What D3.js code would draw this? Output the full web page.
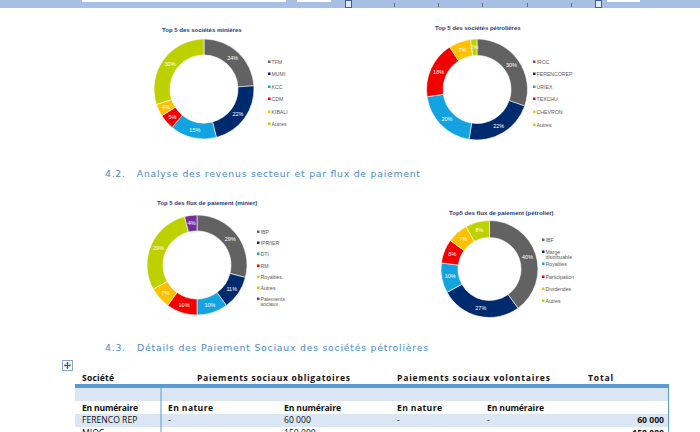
<!DOCTYPE html>
<html><head><meta charset="utf-8">
<script src="https://cdn.jsdelivr.net/npm/d3@7"></script>
<style>body{margin:0;background:#fff}svg{display:block}</style>
</head><body><svg id="c" width="700" height="432"></svg>
<script>
// ---- data ----
const minesCats = ["TFM","MUMI","KCC","CDM","KIBALI","Autres"];
const minesVals = [24,22,15,5,4,30];
const petroCats = ["IROC","FERENCOREP","URIEX","TEXCHU","CHEVRON","Autres"];
const petroVals = [30,22,20,18,7,2];
const fluxMinCats = ["IBP","IPR/IER","DTI","RM","Royalties.","Autres","Paiements sociaux"];
const fluxMinVals = [29,11,10,10,7,29,4];
const fluxPetCats = ["IBF","Marge distribuable","Royalties","Participation","Dividendes","Autres"];
const fluxPetVals = [40,27,10,8,7,8];
const colors6 = ["#626262","#002a6e","#12a3e0","#f20000","#ffc000","#bdd100"];
const colors7 = ["#626262","#002a6e","#12a3e0","#f20000","#ffc000","#bdd100","#7030a0"];

const tableHead = ["Société","Paiements sociaux obligatoires","Paiements sociaux volontaires","Total"];
const tableSub = ["En numéraire","En nature","En numéraire","En nature","En numéraire",""];
const tableRows = [
  ["FERENCO REP","-","60 000","-","-","60 000"],
  ["MIOC","","150 000","","","150 000"]
];
const headings = ["4.2.   Analyse des revenus secteur et par flux de paiement","4.3.   Détails des Paiement Sociaux des sociétés pétrolières"];

const svg = d3.select("#c");
svg.append("rect").attr("width",700).attr("height",432).attr("fill","#fff");

// ---- ruler ----
const ruler = svg.append("g");
ruler.append("rect").attr("x",0).attr("y",0).attr("width",700).attr("height",8).attr("fill","#a6bfe3");
[[82,286],[297,331],[607,640]].forEach(s=>ruler.append("rect").attr("x",s[0]).attr("y",0).attr("width",s[1]-s[0]).attr("height",2).attr("fill","#fff"));
[394,438,482,527,571].forEach(x=>ruler.append("rect").attr("x",x).attr("y",3).attr("width",1).attr("height",4).attr("fill","#6d6d6d"));
[[345,0],[595,0]].forEach(p=>ruler.append("rect").attr("x",p[0]+0.5).attr("y",p[1]+0.5).attr("width",6).attr("height",7).attr("fill","#dfe8f5").attr("stroke","#3f5f9a").attr("stroke-width",1));

// ---- donut helper ----
function donut(cfg){
  const g = svg.append("g");
  g.append("text").attr("x",cfg.tx).attr("y",cfg.ty).attr("font-family","Liberation Sans, Arial, sans-serif")
    .attr("font-size",6).attr("font-weight","bold").attr("fill","#1f3b7a").text(cfg.title);
  const pie = d3.pie().sort(null).value(d=>d.v)(cfg.cats.map((c,i)=>({c, v:cfg.vals[i], col:cfg.colors[i]})));
  const arc = d3.arc().innerRadius(cfg.ri).outerRadius(cfg.ro);
  const lab = d3.arc().innerRadius((cfg.ri+cfg.ro)/2).outerRadius((cfg.ri+cfg.ro)/2);
  const dg = g.append("g").attr("transform",`translate(${cfg.cx},${cfg.cy})`);
  dg.selectAll("path").data(pie).join("path").attr("d",arc).attr("fill",d=>d.data.col)
    .attr("stroke","#fff").attr("stroke-width",0.6);
  dg.selectAll("text").data(pie).join("text")
    .attr("transform",d=>`translate(${lab.centroid(d)})`)
    .attr("text-anchor","middle").attr("dy","0.35em")
    .attr("font-family","Liberation Sans, Arial, sans-serif").attr("font-size",5.5)
    .attr("fill","#fff").text(d=>d.data.v+"%");
  const lg = g.append("g");
  cfg.cats.forEach((c,i)=>{
    const y = cfg.ly[i];
    lg.append("rect").attr("x",cfg.lx).attr("y",y-1.5).attr("width",2.5).attr("height",2.5).attr("fill",cfg.colors[i]);
    const lines = cfg.wrap && cfg.wrap[c] ? cfg.wrap[c] : [c];
    lines.forEach((t,j)=>lg.append("text").attr("x",cfg.lx+3.5).attr("y",y+2+j*5.3)
      .attr("font-family","Liberation Sans, Arial, sans-serif").attr("font-size",5.2).attr("fill","#595959").text(t));
  });
}

donut({title:"Top 5 des sociétés minières", tx:162, ty:32, cx:204, cy:89, ri:34, ro:50,
  cats:minesCats, vals:minesVals, colors:colors6, lx:268, ly:[62,74,87,99,112,124]});
donut({title:"Top 5 des sociétés pétrolières", tx:435, ty:30, cx:477, cy:89.5, ri:34, ro:50.5,
  cats:petroCats, vals:petroVals, colors:colors6, lx:533, ly:[62,74,87,99,112,125]});
donut({title:"Top 5 des flux de paiement (minier)", tx:157, ty:205, cx:197, cy:265, ri:34, ro:50,
  cats:fluxMinCats, vals:fluxMinVals, colors:colors7, lx:257, ly:[232,243,254,266,277,288,299],
  wrap:{"Paiements sociaux":["Paiements","sociaux"]}});
donut({title:"Top5 des flux de paiement (pétrolier)", tx:449, ty:215, cx:489.5, cy:269, ri:31.5, ro:48.5,
  cats:fluxPetCats, vals:fluxPetVals, colors:colors6, lx:542, ly:[240,252,264,277,289,301],
  wrap:{"Marge distribuable":["Marge","distribuable"]}});

// ---- headings ----
[[105,177,315],[105,351,323]].forEach((p,i)=>{
  svg.append("text").attr("x",p[0]).attr("y",p[1]).attr("font-family","DejaVu Sans, Verdana, sans-serif")
    .attr("font-size",9.3).attr("fill","#4a8bcf").attr("textLength",p[2]).attr("lengthAdjust","spacing")
    .attr("xml:space","preserve").style("white-space","pre").text(headings[i]);
});

// ---- table ----
const T = svg.append("g");
// move icon
T.append("rect").attr("x",62.5).attr("y",360.5).attr("width",10).attr("height",10).attr("fill","#fff").attr("stroke","#8aa6d4");
T.append("path").attr("d","M67.5 362.5v6M64.5 365.5h6").attr("stroke","#2f5597").attr("stroke-width",1);
T.append("path").attr("d","M66.5 363.5l1-1.3l1 1.3M66.5 367.5l1 1.3l1-1.3M65.5 364.5l-1.3 1l1.3 1M69.5 364.5l1.3 1l-1.3 1").attr("stroke","#2f5597").attr("fill","none").attr("stroke-width",0.8);

T.append("rect").attr("x",75).attr("y",388).attr("width",593).attr("height",13).attr("fill","#dae6f3");
T.append("rect").attr("x",75).attr("y",414).attr("width",593).attr("height",13).attr("fill","#dae6f3");
T.append("rect").attr("x",75).attr("y",384).attr("width",594).attr("height",4).attr("fill","#5b9bd5");
T.append("line").attr("x1",161).attr("x2",161).attr("y1",388).attr("y2",432).attr("stroke","#5b9bd5").attr("stroke-width",1);
T.append("line").attr("x1",668.5).attr("x2",668.5).attr("y1",384).attr("y2",432).attr("stroke","#5b9bd5").attr("stroke-width",1);

const tf = "'Open Sans', Lato, sans-serif";
const headX = [82,197,397,588];
const headW = [32,153,153,25];
tableHead.forEach((t,i)=>T.append("text").attr("x",headX[i]).attr("y",381).attr("font-family",tf)
  .attr("font-weight","bold").attr("font-size",8.6).attr("fill","#111").attr("textLength",headW[i]).attr("lengthAdjust","spacing").text(t));
const colX = [82,168,284,397,487];
const subW = [56,45,57,45,57];
tableSub.forEach((t,i)=>{ if(t) T.append("text").attr("x",colX[i]).attr("y",411).attr("font-family",tf)
  .attr("font-weight","bold").attr("font-size",8.6).attr("fill","#111").attr("textLength",subW[i]).attr("lengthAdjust","spacing").text(t);});
tableRows.forEach((r,ri)=>{
  const y = 423 + ri*13;
  r.forEach((t,i)=>{
    if(!t) return;
    if(i<5){
      T.append("text").attr("x",colX[i]).attr("y",y).attr("font-family",tf).attr("font-size",8.6).attr("fill","#111").text(t);
    } else {
      T.append("text").attr("x",664).attr("y",y).attr("text-anchor","end").attr("font-family",tf)
        .attr("font-weight","bold").attr("font-size",8.6).attr("fill","#111").text(t);
    }
  });
});
</script></body></html>
